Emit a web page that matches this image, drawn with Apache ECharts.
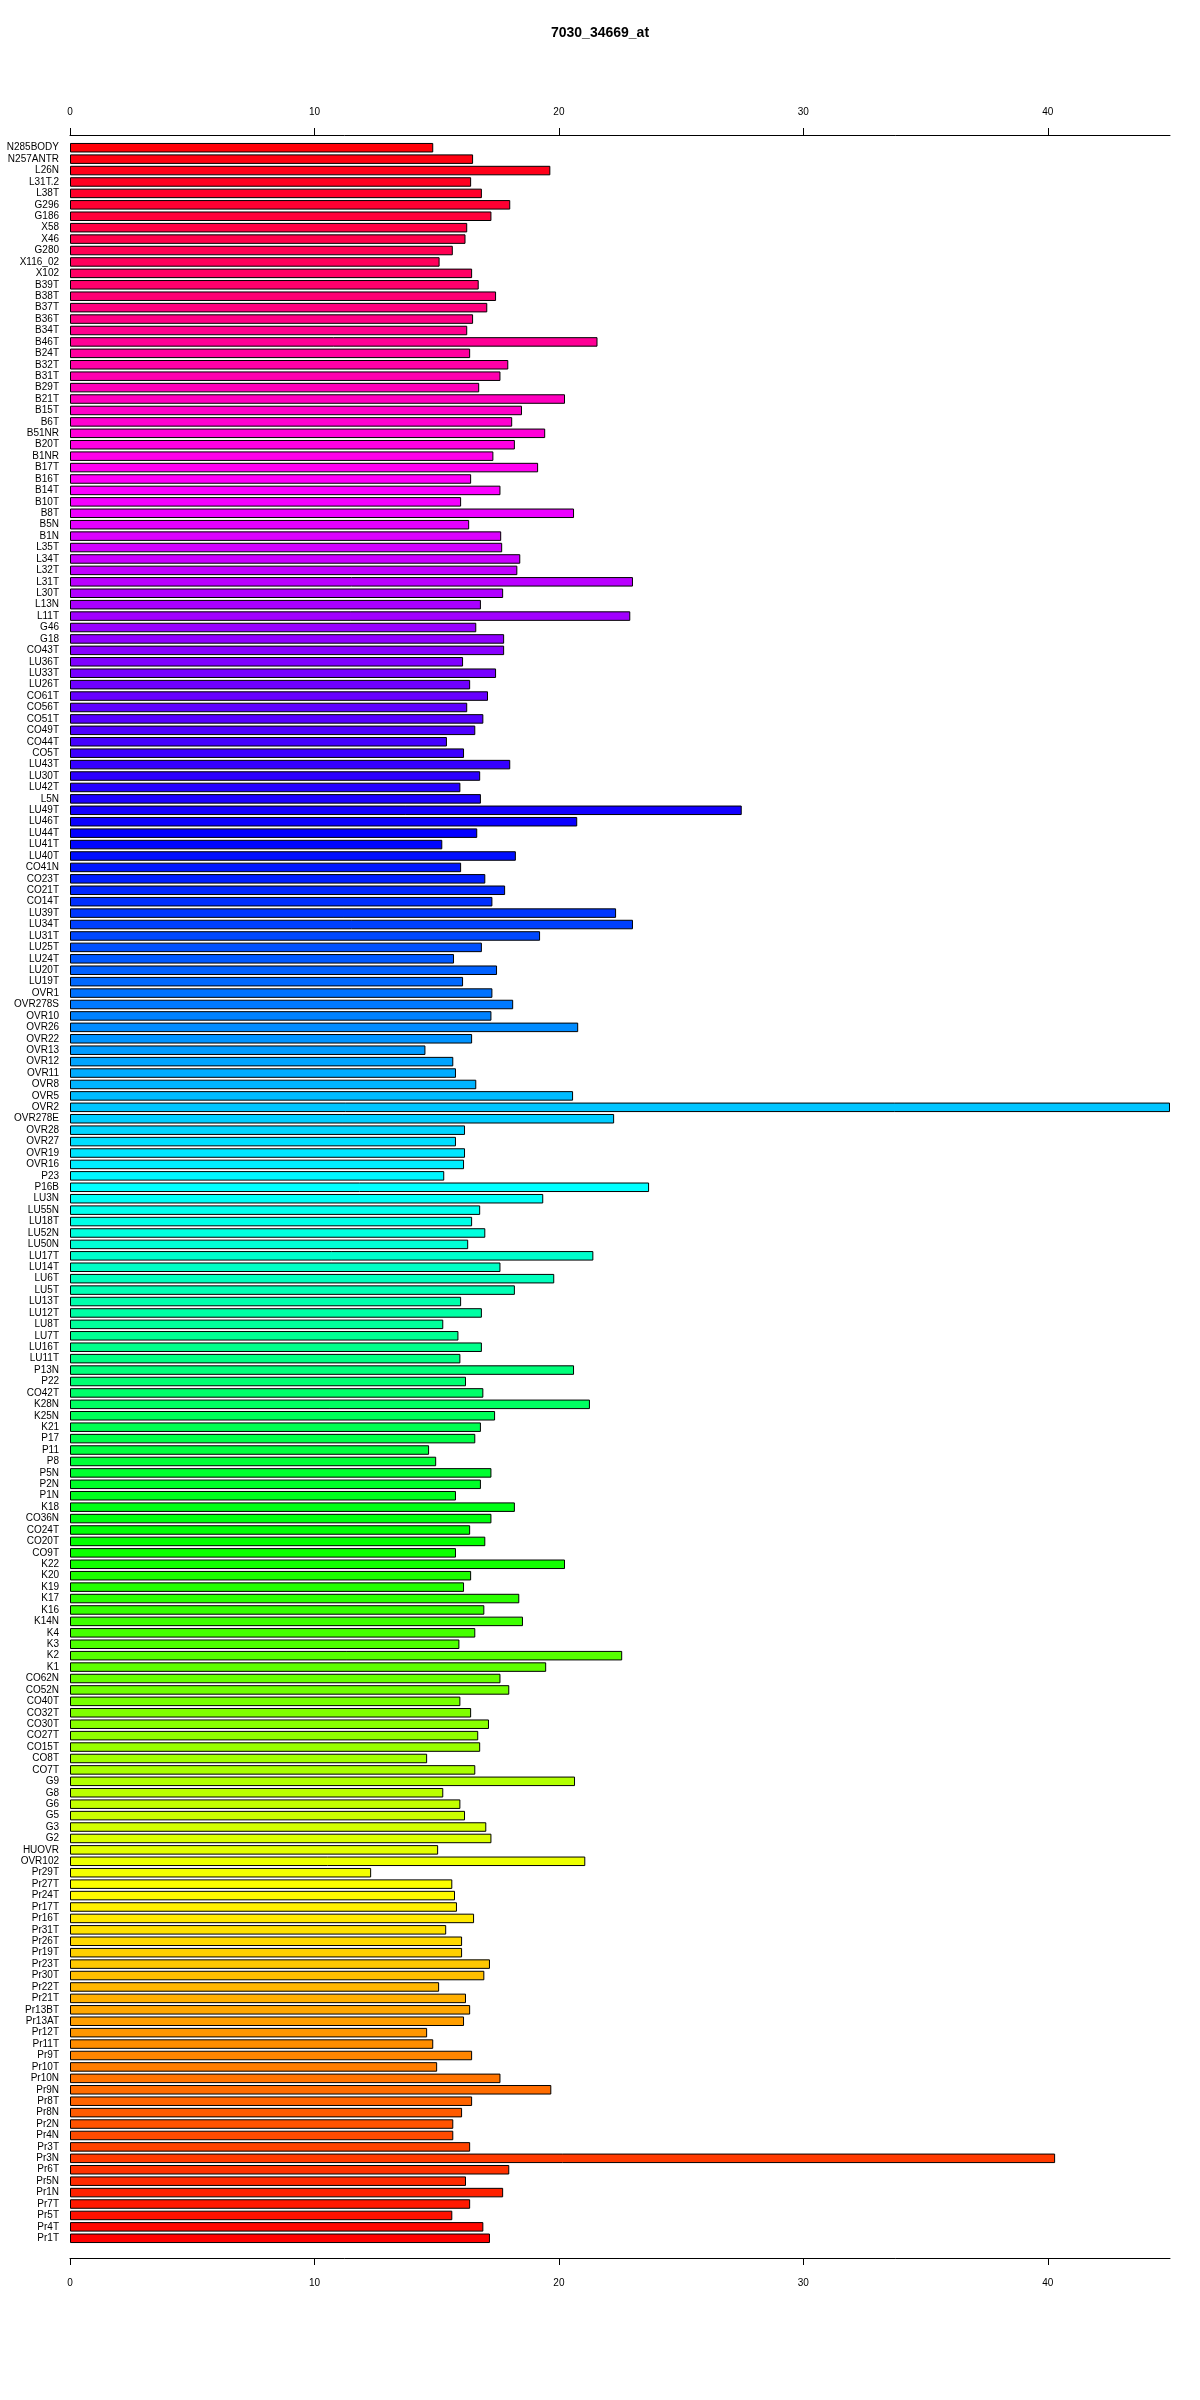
<!DOCTYPE html>
<html>
<head>
<meta charset="utf-8">
<script src="https://cdn.jsdelivr.net/npm/echarts@6/dist/echarts.min.js"></script>
<style>
html,body{margin:0;padding:0;background:#fff;}
#chart{width:1200px;height:2400px;}
</style>
</head>
<body>
<div id="chart"></div>
<script>
const chartTitle = "7030_34669_at";
const categories = [
"N285BODY","N257ANTR","L26N","L31T.2","L38T","G296","G186","X58","X46","G280","X116_02","X102","B39T","B38T","B37T",
"B36T","B34T","B46T","B24T","B32T","B31T","B29T","B21T","B15T","B6T","B51NR","B20T","B1NR","B17T","B16T","B14T",
"B10T","B8T","B5N","B1N","L35T","L34T","L32T","L31T","L30T","L13N","L11T","G46","G18","CO43T","LU36T","LU33T",
"LU26T","CO61T","CO56T","CO51T","CO49T","CO44T","CO5T","LU43T","LU30T","LU42T","L5N","LU49T","LU46T","LU44T","LU41T",
"LU40T","CO41N","CO23T","CO21T","CO14T","LU39T","LU34T","LU31T","LU25T","LU24T","LU20T","LU19T","OVR1","OVR278S","OVR10","OVR26",
"OVR22","OVR13","OVR12","OVR11","OVR8","OVR5","OVR2","OVR278E","OVR28","OVR27","OVR19","OVR16","P23","P16B","LU3N",
"LU55N","LU18T","LU52N","LU50N","LU17T","LU14T","LU6T","LU5T","LU13T","LU12T","LU8T","LU7T","LU16T","LU11T","P13N","P22",
"CO42T","K28N","K25N","K21","P17","P11","P8","P5N","P2N","P1N","K18","CO36N","CO24T","CO20T","CO9T","K22",
"K20","K19","K17","K16","K14N","K4","K3","K2","K1","CO62N","CO52N","CO40T","CO32T","CO30T","CO27T",
"CO15T","CO8T","CO7T","G9","G8","G6","G5","G3","G2","HUOVR","OVR102","Pr29T","Pr27T","Pr24T","Pr17T","Pr16T",
"Pr31T","Pr26T","Pr19T","Pr23T","Pr30T","Pr22T","Pr21T","Pr13BT","Pr13AT","Pr12T","Pr11T","Pr9T","Pr10T","Pr10N","Pr9N",
"Pr8T","Pr8N","Pr2N","Pr4N","Pr3T","Pr3N","Pr6T","Pr5N","Pr1N","Pr7T","Pr5T","Pr4T","Pr1T"
];
const values = [
14.86,16.49,19.65,16.41,16.85,18.01,17.24,16.25,16.18,15.66,15.12,16.45,16.72,17.43,17.07,
16.49,16.25,21.58,16.37,17.93,17.61,16.74,20.25,18.49,18.09,19.44,18.20,17.32,19.15,16.41,17.61,
16.00,20.62,16.33,17.64,17.68,18.42,18.30,23.03,17.72,16.81,22.92,16.62,17.76,17.76,16.08,17.43,
16.37,17.10,16.25,16.91,16.58,15.42,16.12,18.01,16.78,15.97,16.81,27.48,20.75,16.66,15.23,
18.24,16.00,16.99,17.80,17.28,22.34,23.03,19.23,16.85,15.71,17.47,16.08,17.28,18.13,17.24,20.79,
16.45,14.54,15.68,15.79,16.62,20.58,45.0,22.26,16.16,15.79,16.16,16.12,15.31,23.69,19.36,
16.78,16.45,16.99,16.29,21.41,17.61,19.81,18.20,16.00,16.85,15.27,15.89,16.85,15.97,20.62,16.20,
16.91,21.27,17.39,16.81,16.58,14.69,14.98,17.24,16.81,15.79,18.20,17.24,16.37,16.99,15.79,20.25,
16.41,16.12,18.38,16.95,18.53,16.58,15.93,22.59,19.48,17.61,17.97,15.97,16.41,17.14,16.70,
16.78,14.61,16.58,20.66,15.27,15.97,16.16,17.03,17.24,15.06,21.08,12.32,15.64,15.75,15.83,16.53,
15.39,16.04,16.04,17.18,16.95,15.10,16.20,16.37,16.12,14.61,14.86,16.45,15.02,17.61,19.69,
16.45,16.04,15.68,15.68,16.37,40.3,17.97,16.20,17.72,16.37,15.64,16.91,17.18
];
const axisTicks = [0, 10, 20, 30, 40];

function hsvToHex(h, s, v) {
  const i = Math.floor(h * 6) % 6, f = h * 6 - Math.floor(h * 6);
  const p = v * (1 - s), q = v * (1 - f * s), t = v * (1 - (1 - f) * s);
  let r, g, b;
  [[r,g,b]] = [[[v,t,p],[q,v,p],[p,v,t],[p,q,v],[t,p,v],[v,p,q]][i]];
  const hx = x => Math.round(x * 255).toString(16).padStart(2, '0');
  return '#' + hx(r) + hx(g) + hx(b);
}
const n = categories.length;
const colors = categories.map((c, i) => hsvToHex((n - 1 - i) / n, 1, 1));

const chart = echarts.init(document.getElementById('chart'), null, {renderer: 'canvas'});
const FONT = "'Liberation Sans', Arial, sans-serif";
const axisCommon = {
  type: 'value', min: 0, max: 45, interval: 10,
  splitLine: {show: false},
  axisLine: {show: true, onZero: false, lineStyle: {color: '#000', width: 1}},
  axisTick: {show: true, length: 7, lineStyle: {color: '#000'},
    customValues: axisTicks},
  axisLabel: {color: '#000', fontSize: 10, fontFamily: FONT, margin: 18,
    customValues: axisTicks}
};
chart.setOption({
  animation: false,
  backgroundColor: '#fff',
  title: {
    text: chartTitle, left: 'center', top: 21,
    textStyle: {fontSize: 14, fontWeight: 'bold', color: '#000', fontFamily: FONT}
  },
  grid: {left: 70, right: 30, top: 142, height: 2102, containLabel: false},
  xAxis: [
    Object.assign({}, axisCommon, {position: 'top', offset: 7}),
    Object.assign({}, axisCommon, {position: 'bottom', offset: 14,
      axisLabel: Object.assign({}, axisCommon.axisLabel, {margin: 20})})
  ],
  yAxis: {
    type: 'category', data: categories, inverse: true,
    axisLine: {show: false}, axisTick: {show: false},
    axisLabel: {color: '#000', fontSize: 10, fontFamily: FONT, margin: 11, interval: 0}
  },
  series: [{
    type: 'bar', xAxisIndex: 0,
    data: values.map((v, i) => ({value: v, itemStyle: {color: colors[i]}})),
    barCategoryGap: '16.7%',
    itemStyle: {borderColor: '#000', borderWidth: 1}
  }]
});
</script>
</body>
</html>
